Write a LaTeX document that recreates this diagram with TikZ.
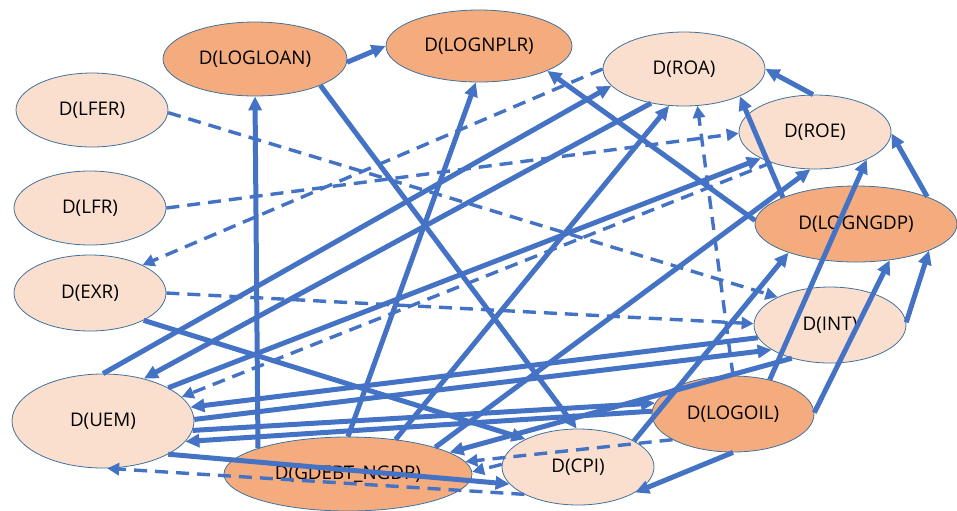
\documentclass[tikz,border=0pt]{standalone}
\usepackage{fontspec}
\setmainfont{Open Sans}
\usetikzlibrary{shapes.geometric}
\usetikzlibrary{arrows.meta}

\definecolor{linkblue}{RGB}{68,114,196}
\definecolor{rim}{RGB}{65,113,156}
\definecolor{peachlight}{RGB}{250,223,206}
\definecolor{peachdark}{RGB}{244,172,126}

\tikzset{
    light/.style={ellipse, draw=rim, line width=0.4pt, fill=peachlight, inner sep=0pt},
    dark/.style={ellipse, draw=rim, line width=0.4pt, fill=peachdark, inner sep=0pt},
    link/.style={draw=linkblue, line width=2.5pt, -{Triangle[length=7pt,width=6.5pt]}},
    weak/.style={draw=linkblue, line width=1.7pt, dash pattern=on 6.5pt off 4pt, -{Triangle[length=6pt,width=6pt]}}
}

\begin{document}
\begin{tikzpicture}[x=0.5pt, y=-0.5pt, font=\fontsize{9.4}{11}\selectfont]
        \useasboundingbox (0,0) rectangle (957,510);

        \node [dark, minimum width=92pt, minimum height=37pt] (LOGLOAN) at (255,59) {D(LOGLOAN)};
        \node [dark, minimum width=93pt, minimum height=36pt] (LOGNPLR) at (479,46) {D(LOGNPLR)};
        \node [light, minimum width=81pt, minimum height=37pt] (ROA) at (684,69) {D(ROA)};
        \node [light, minimum width=76pt, minimum height=37pt] (ROE) at (815,132) {D(ROE)};
        \node [dark, minimum width=101pt, minimum height=38pt] (LOGNGDP) at (856,224) {D(LOGNGDP)};
        \node [light, minimum width=76pt, minimum height=37pt] (LFER) at (92,110) {D(LFER)};
        \node [light, minimum width=76pt, minimum height=37pt] (LFR) at (90,208) {D(LFR)};
        \node [light, minimum width=76pt, minimum height=38pt] (EXR) at (90,293) {D(EXR)};
        \node [light, minimum width=91pt, minimum height=47pt] (UEM) at (103,421) {D(UEM)};
        \node [dark, minimum width=124pt, minimum height=37pt] (GDEBT) at (348,474) {D(GDEBT\_NGDP)};
        \node [light, minimum width=76pt, minimum height=38pt] (CPI) at (578,467) {D(CPI)};
        \node [dark, minimum width=81pt, minimum height=38pt] (LOGOIL) at (733,414) {D(LOGOIL)};
        \node [light, minimum width=76pt, minimum height=38pt] (INT) at (830,325) {D(INT)};

        \draw [link] (LOGLOAN.-2) -- (LOGNPLR.180);
        \draw [link] (GDEBT.164) -- (LOGLOAN.270);
        \draw [link] (LOGLOAN.-22) -- (CPI.92);
        \draw [link] (EXR.-27) -- (CPI.152);
        \draw [link] (UEM.90) -- (ROA.193);
        \draw [link] (ROA.226) -- (UEM.46);
        \draw [link] (UEM.27) -- (ROE.206);
        \draw [link] (GDEBT.90) -- (LOGNPLR.265);
        \draw [link] (GDEBT.36) -- (ROA.248);
        \draw [link] (GDEBT.17) -- (ROE.263);
        \draw [link] (LOGNGDP.160) -- (ROA.-26);
        \draw [link] (ROE.93) -- (ROA.0);
        \draw [link] (LOGNGDP.21) -- (ROE.-1);
        \draw [link] (LOGNGDP.178) -- (LOGNPLR.-20);
        \draw [link] (INT.2) -- (LOGNGDP.-20);
        \draw [link] (LOGOIL.1) -- (LOGNGDP.-47);
        \draw [link] (LOGOIL.43) -- (ROE.-28);
        \draw [link] (CPI.25) -- (LOGNGDP.203);
        \draw [link] (LOGOIL.270) -- (CPI.-24);
        \draw [link] (INT.190) -- (UEM.9);
        \draw [link] (UEM.1) -- (INT.203);
        \draw [link] (UEM.-6) -- (LOGOIL.172);
        \draw [link] (LOGOIL.178) -- (UEM.-14);
        \draw [link] (UEM.-27) -- (CPI.194);
        \draw [link] (INT.221) -- (GDEBT.12);

        \draw [weak] (LFER.-2) -- (INT.152);
        \draw [weak] (LFR.0) -- (ROE.181);
        \draw [weak] (ROA.180) -- (EXR.28);
        \draw [weak] (EXR.0) -- (INT.179);
        \draw [weak] (ROE.215) -- (UEM.17);
        \draw [weak] (LOGOIL.90) -- (ROA.290);
        \draw [weak] (LOGOIL.203) -- (GDEBT.6);
        \draw [weak] (CPI.178) -- (GDEBT.1);
        \draw [weak] (CPI.207) -- (UEM.275);
\end{tikzpicture}
\end{document}
